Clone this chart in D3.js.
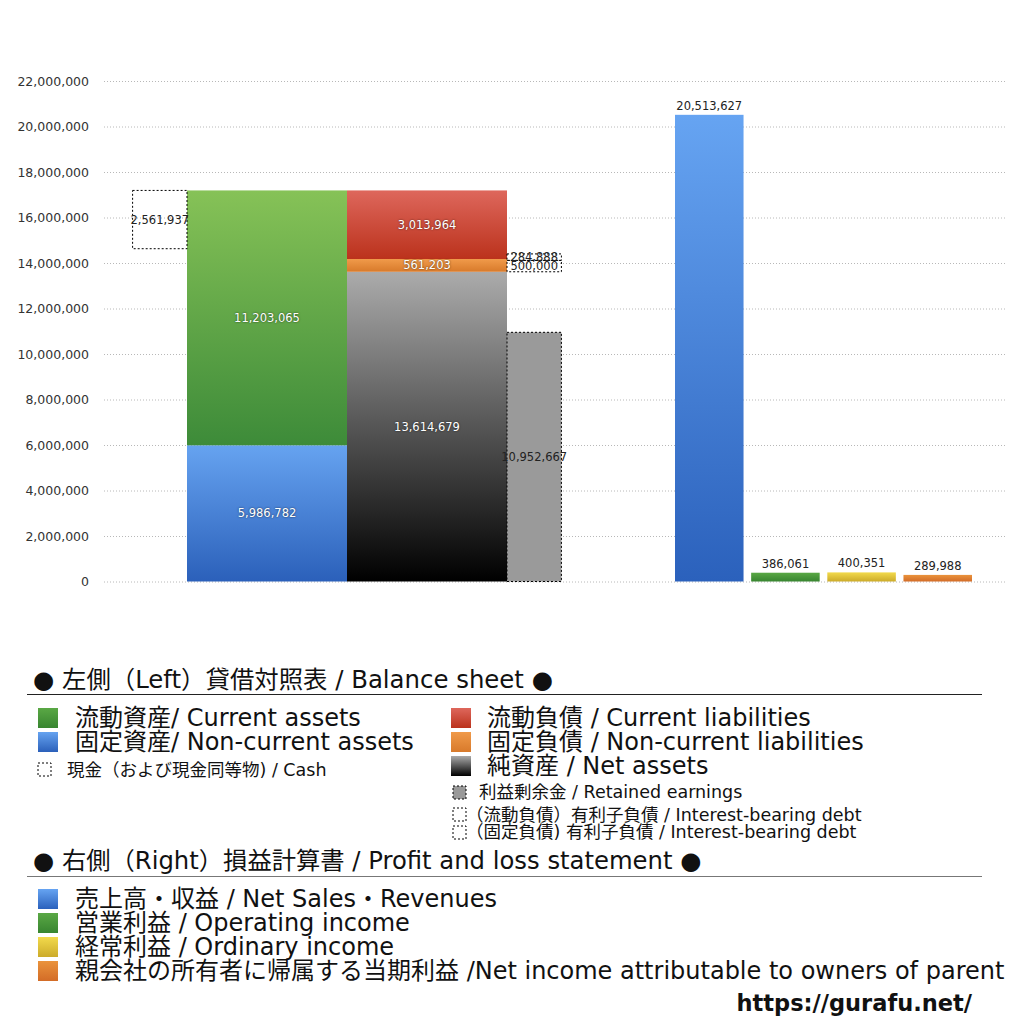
<!DOCTYPE html>
<html>
<head>
<meta charset="utf-8">
<script src="https://cdn.jsdelivr.net/npm/d3@7"></script>
<style>
  body { margin: 0; background: #fff; }
  svg { font-family: "DejaVu Sans", "Noto Sans CJK JP", sans-serif; }
  .in-label { fill: #fff; font-size: 11.5px; text-shadow: 0 0 2px rgba(0,0,0,0.7); }
  .out-label { fill: #222; font-size: 11.5px; }
</style>
</head>
<body>
<div id="chart"></div>
<script>
// balance sheet (left), values in thousand yen
const assetCategories = ["固定資産", "流動資産"];          // bottom -> top
const assetValues = [5986782, 11203065];
const liabilityCategories = ["純資産", "固定負債", "流動負債"]; // bottom -> top
const liabilityValues = [13614679, 561203, 3013964];
const cashValue = 2561937;
const retainedEarnings = 10952667;
const debtCategories = ["固定負債 有利子負債", "流動負債 有利子負債"]; // bottom -> top
const debtValues = [500000, 284888];

// profit and loss (right)
const plCategories = ["売上高", "営業利益", "経常利益", "当期利益"];
const plValues = [20513627, 386061, 400351, 289988];

const yTicks = [0, 2000000, 4000000, 6000000, 8000000, 10000000, 12000000,
  14000000, 16000000, 18000000, 20000000, 22000000];

const W = 1024, H = 1024;
const PLOT = { LEFT: 104, RIGHT: 1005, TOP: 81, BOTTOM: 581.5 };

const svg = d3.select("#chart").append("svg")
    .attr("width", W).attr("height", H);

// gradients
const grads = {
  currentAssets: ["#86c257", "#3d8b39"],
  fixedAssets: ["#66a3f0", "#2b60ba"],
  currentLiab: ["#de675c", "#bb321c"],
  fixedLiab: ["#f09a4a", "#d87a2b"],
  netAssets: ["#ababab", "#000000"],
  sales: ["#66a4f2", "#2b61bc"],
  opIncome: ["#5aa845", "#388530"],
  ordIncome: ["#f2da4c", "#ccab2a"],
  netIncome: ["#ea933c", "#d36c27"]
};
const defs = svg.append("defs");
Object.entries(grads).forEach(([id, c]) => {
  const g = defs.append("linearGradient").attr("id", id)
      .attr("x1", 0).attr("y1", 0).attr("x2", 0).attr("y2", 1);
  g.append("stop").attr("offset", "0%").attr("stop-color", c[0]);
  g.append("stop").attr("offset", "100%").attr("stop-color", c[1]);
});

const y = d3.scaleLinear().domain([0, 22000000]).range([PLOT.BOTTOM, PLOT.TOP]);
const fmt = d3.format(",");

// grid
svg.append("g")
    .attr("transform", `translate(${PLOT.LEFT},0)`)
    .call(d3.axisLeft(y).tickValues(yTicks).tickSize(-(PLOT.RIGHT - PLOT.LEFT)).tickFormat(""))
    .call(g => g.select(".domain").remove())
    .call(g => g.selectAll("line").attr("stroke", "#b8b8b8").attr("stroke-dasharray", "1,2"));

// y axis labels
svg.append("g")
    .attr("transform", `translate(${PLOT.LEFT},0)`)
    .call(d3.axisLeft(y).tickValues(yTicks).tickSize(0).tickPadding(15).tickFormat(fmt))
    .attr("font-family", "DejaVu Sans")
    .attr("font-size", 12.5)
    .call(g => g.select(".domain").remove())
    .call(g => g.selectAll("text").attr("fill", "#333"));

// left: balance sheet columns
const xBS = d3.scaleBand().domain(["assets", "liabilities"]).range([187, 507]).padding(0);
const sideW = xBS.bandwidth() * 0.34;

function stackOf(values) {
  let acc = 0;
  return values.map(v => { const s = acc; acc += v; return [s, acc]; });
}

const assetStack = stackOf(assetValues);
const assetFills = ["fixedAssets", "currentAssets"];
svg.append("g").selectAll("rect")
  .data(assetStack)
  .join("rect")
    .attr("x", xBS("assets"))
    .attr("y", d => y(d[1]))
    .attr("width", xBS.bandwidth())
    .attr("height", d => y(d[0]) - y(d[1]))
    .attr("fill", (d, i) => `url(#${assetFills[i]})`);

const liabStack = stackOf(liabilityValues);
const liabFills = ["netAssets", "fixedLiab", "currentLiab"];
svg.append("g").selectAll("rect")
  .data(liabStack)
  .join("rect")
    .attr("x", xBS("liabilities"))
    .attr("y", d => y(d[1]))
    .attr("width", xBS.bandwidth())
    .attr("height", d => y(d[0]) - y(d[1]))
    .attr("fill", (d, i) => `url(#${liabFills[i]})`);

// in-bar labels
svg.append("g").selectAll("text")
  .data(assetStack.map((d, i) => ({ d, v: assetValues[i], col: "assets" }))
    .concat(liabStack.map((d, i) => ({ d, v: liabilityValues[i], col: "liabilities" }))))
  .join("text")
    .attr("class", "in-label")
    .attr("x", o => xBS(o.col) + xBS.bandwidth() / 2)
    .attr("y", o => (y(o.d[0]) + y(o.d[1])) / 2 + 4)
    .attr("text-anchor", "middle")
    .text(o => fmt(o.v));

// cash box (hangs down from the top of assets)
const assetTotal = d3.sum(assetValues);
svg.append("rect")
    .attr("x", xBS("assets") - sideW)
    .attr("y", y(assetTotal))
    .attr("width", sideW)
    .attr("height", y(assetTotal - cashValue) - y(assetTotal))
    .attr("fill", "none").attr("stroke", "#000").attr("stroke-dasharray", "2,2");
svg.append("text")
    .attr("class", "out-label")
    .attr("x", xBS("assets") - sideW / 2)
    .attr("y", (y(assetTotal) + y(assetTotal - cashValue)) / 2 + 4)
    .attr("text-anchor", "middle")
    .attr("font-size", 11)
    .text(fmt(cashValue));

// retained earnings
const reX = xBS("liabilities") + xBS.bandwidth();
svg.append("rect")
    .attr("x", reX)
    .attr("y", y(retainedEarnings))
    .attr("width", sideW)
    .attr("height", y(0) - y(retainedEarnings))
    .attr("fill", "#9a9a9a").attr("stroke", "#000").attr("stroke-dasharray", "2,2");
svg.append("text")
    .attr("class", "out-label")
    .attr("x", reX + sideW / 2)
    .attr("y", y(retainedEarnings / 2) + 4)
    .attr("text-anchor", "middle")
    .attr("font-size", 11)
    .text(fmt(retainedEarnings));

// interest-bearing debt boxes, stacked on top of net assets
const debtStack = stackOf(debtValues).map(d => [d[0] + liabilityValues[0], d[1] + liabilityValues[0]]);
svg.append("g").selectAll("rect")
  .data(debtStack)
  .join("rect")
    .attr("x", reX)
    .attr("y", d => y(d[1]))
    .attr("width", sideW)
    .attr("height", d => y(d[0]) - y(d[1]))
    .attr("fill", "none").attr("stroke", "#000").attr("stroke-dasharray", "2,2");
svg.append("g").selectAll("text")
  .data(debtStack)
  .join("text")
    .attr("class", "out-label")
    .attr("x", reX + sideW / 2)
    .attr("y", d => (y(d[0]) + y(d[1])) / 2 + 4)
    .attr("text-anchor", "middle")
    .attr("font-size", 11)
    .text((d, i) => fmt(debtValues[i]));

// right: profit and loss
const xPL = d3.scaleBand().domain(plCategories).range([675, 972]).paddingInner(0.1).paddingOuter(0);
const plFills = ["sales", "opIncome", "ordIncome", "netIncome"];
svg.append("g").selectAll("rect")
  .data(plValues)
  .join("rect")
    .attr("x", (d, i) => xPL(plCategories[i]))
    .attr("y", d => y(d))
    .attr("width", xPL.bandwidth())
    .attr("height", d => y(0) - y(d))
    .attr("fill", (d, i) => `url(#${plFills[i]})`);
svg.append("g").selectAll("text")
  .data(plValues)
  .join("text")
    .attr("class", "out-label")
    .attr("x", (d, i) => xPL(plCategories[i]) + xPL.bandwidth() / 2)
    .attr("y", d => y(d) - 5)
    .attr("text-anchor", "middle")
    .text(d => fmt(d));

// legend
const legend = svg.append("g").attr("fill", "#111");

function swatch(x, yy, s, fill, dashed) {
  legend.append("rect")
      .attr("x", x).attr("y", yy).attr("width", s).attr("height", s)
      .attr("fill", fill)
      .attr("stroke", dashed ? "#000" : "none")
      .attr("stroke-dasharray", dashed ? "2,2" : null);
}
function label(x, yy, size, txt) {
  legend.append("text").attr("x", x).attr("y", yy).attr("font-size", size).text(txt);
}

label(33, 688, 24.4, "● 左側（Left）貸借対照表 / Balance sheet ●");
legend.append("line").attr("x1", 27).attr("x2", 982).attr("y1", 694.5).attr("y2", 694.5)
    .attr("stroke", "#222").attr("stroke-width", 1.2);

swatch(38, 708, 20, "url(#opIncome)");
label(75, 726, 24, "流動資産/ Current assets");
swatch(38, 732, 20, "url(#fixedAssets)");
label(75, 750, 24, "固定資産/ Non-current assets");
swatch(38, 763, 13, "none", true);
label(67, 776, 17.5, "現金（および現金同等物) / Cash");

swatch(451, 708, 20, "url(#currentLiab)");
label(487, 726, 24, "流動負債 /  Current liabilities");
swatch(451, 732, 20, "url(#fixedLiab)");
label(487, 750, 24, "固定負債 / Non-current liabilities");
swatch(451, 756, 20, "url(#netAssets)");
label(487, 774, 24, "純資産 / Net assets");
swatch(453, 786, 13, "#999", true);
label(479, 798, 17.5, "利益剰余金 / Retained earnings");
swatch(453, 808, 13, "none", true);
label(466, 821, 17.5, "（流動負債）有利子負債 / Interest-bearing debt");
swatch(453, 826, 13, "none", true);
label(466, 838, 17.5, "（固定負債) 有利子負債 / Interest-bearing debt");

label(33, 869, 24.3, "● 右側（Right）損益計算書 / Profit and loss statement ●");
legend.append("line").attr("x1", 27).attr("x2", 982).attr("y1", 876.5).attr("y2", 876.5)
    .attr("stroke", "#777").attr("stroke-width", 1.2);

swatch(38, 889, 20, "url(#sales)");
label(75, 907, 24, "売上高・収益 / Net Sales・Revenues");
swatch(38, 913, 20, "url(#opIncome)");
label(75, 931, 24, "営業利益 / Operating income");
swatch(38, 937, 20, "url(#ordIncome)");
label(75, 955, 24, "経常利益 / Ordinary income");
swatch(38, 961, 20, "url(#netIncome)");
label(75, 979, 24, "親会社の所有者に帰属する当期利益 /Net income attributable to owners of parent");

legend.append("text")
    .attr("x", 972).attr("y", 1011).attr("text-anchor", "end")
    .attr("font-size", 22.5).attr("font-weight", "bold")
    .text("https://gurafu.net/");
</script>
</body>
</html>
